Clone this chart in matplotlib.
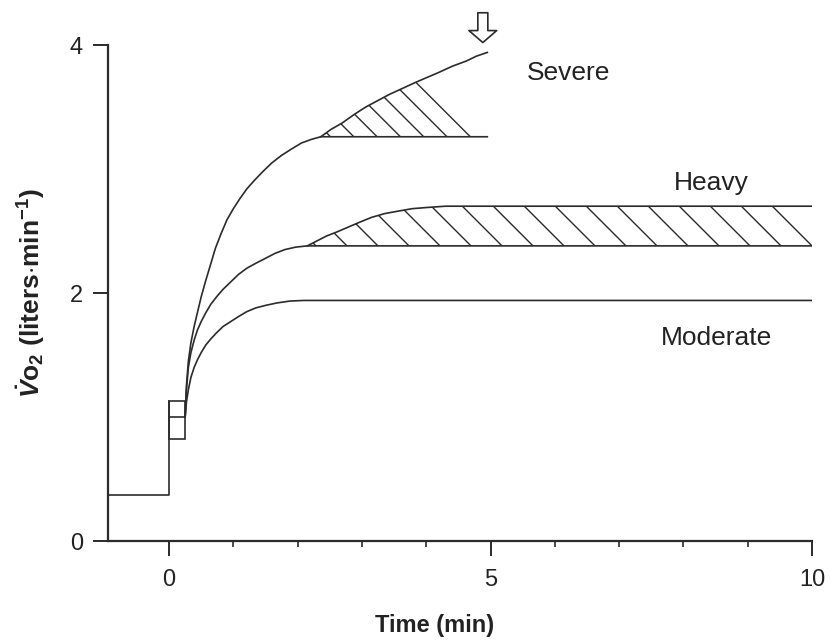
"""
VO2 response to constant-load exercise in the moderate, heavy and severe domains.
Redrawn with matplotlib; values read off the original figure.
"""
import matplotlib.pyplot as plt
from matplotlib.patches import Rectangle

plt.rcParams['font.family'] = ['Liberation Sans', 'DejaVu Sans']
plt.rcParams['mathtext.fontset'] = 'custom'
plt.rcParams['mathtext.rm'] = 'Liberation Sans:bold'
plt.rcParams['mathtext.it'] = 'Liberation Sans:italic:bold'
plt.rcParams['mathtext.bf'] = 'Liberation Sans:bold'

INK = '#2b2b2b'

# --- values (time in min, VO2 in liters/min) ---
baseline_t = [-0.95, 0.0, 0.0]
baseline_v = [0.37, 0.37, 1.13]
box_t = [0.0, 0.25]
box_v = [0.82, 1.00, 1.13]          # bottom, middle, top of the phase 1 box

mod_t = [0.25, 0.27, 0.30, 0.34, 0.39, 0.44, 0.50, 0.57, 0.65, 0.74, 0.84, 0.96,
         1.08, 1.21, 1.35, 1.50, 1.68, 1.88, 2.10, 2.40, 10.0]
mod_v = [1.00, 1.12, 1.22, 1.32, 1.40, 1.46, 1.52, 1.58, 1.63, 1.68, 1.73, 1.77,
         1.81, 1.85, 1.88, 1.90, 1.92, 1.935, 1.94, 1.94, 1.94]

heavy_rise_t = [0.25, 0.27, 0.30, 0.34, 0.39, 0.44, 0.50, 0.57, 0.65, 0.74, 0.84, 0.96,
                1.08, 1.21, 1.35, 1.50, 1.65, 1.80, 1.97, 2.15, 10.0]
heavy_rise_v = [1.00, 1.22, 1.40, 1.52, 1.62, 1.70, 1.77, 1.84, 1.91, 1.97, 2.03, 2.09,
                2.15, 2.20, 2.24, 2.28, 2.32, 2.35, 2.37, 2.38, 2.38]
heavy_slow_t = [2.15, 2.30, 2.45, 2.60, 2.78, 2.96, 3.15, 3.35, 3.56, 3.78, 4.02, 4.30,
                4.62, 10.0]
heavy_slow_v = [2.38, 2.42, 2.46, 2.49, 2.53, 2.57, 2.61, 2.64, 2.66, 2.68, 2.69, 2.70,
                2.70, 2.70]

sev_rise_t = [0.25, 0.27, 0.30, 0.34, 0.39, 0.44, 0.50, 0.57, 0.64, 0.72, 0.81, 0.90,
              1.00, 1.10, 1.21, 1.33, 1.46, 1.60, 1.75, 1.90, 2.06, 2.22, 2.36, 4.95]
sev_rise_v = [1.00, 1.25, 1.45, 1.60, 1.73, 1.84, 1.97, 2.10, 2.22, 2.36, 2.48, 2.59,
              2.68, 2.76, 2.84, 2.91, 2.98, 3.05, 3.11, 3.16, 3.21, 3.24, 3.26, 3.26]
sev_slow_t = [2.36, 2.52, 2.69, 2.88, 3.06, 3.24, 3.42, 3.63, 3.84, 4.02, 4.20, 4.41,
              4.62, 4.78, 4.95]
sev_slow_v = [3.26, 3.32, 3.37, 3.44, 3.50, 3.55, 3.60, 3.65, 3.70, 3.74, 3.78, 3.83,
              3.87, 3.91, 3.94]

end_t = 4.88                         # exhaustion arrow
labels = ['Severe', 'Heavy', 'Moderate']
label_t = [5.57, 7.85, 7.65]
label_v = [3.72, 2.83, 1.58]


def hatch(ax, t, lo, hi, step_px, offset_px):
    """45 degree hatching clipped to the area between lo and the curve hi."""
    region = ax.fill_between(t, lo, hi, facecolor='none', edgecolor='none')
    clip = region.get_paths()[0]
    (x0, y0), (x1, y1) = ax.transData.transform([(0, 0), (1, 1)])
    sx, sy = x1 - x0, y1 - y0
    climb = (max(hi) - lo) * sy / sx + 0.1
    tb = t[-1] - offset_px / sx
    while tb > t[0]:
        ta, tc = tb - climb, tb + 0.1
        line, = ax.plot([ta, tc], [lo + (tb - ta) * sx / sy, lo - (tc - tb) * sx / sy],
                        color=INK, lw=1.0)
        line.set_clip_path(clip, ax.transData)
        tb -= step_px / sx


fig = plt.figure(figsize=(8.31, 6.44), dpi=100)
ax = fig.add_axes([108 / 831, 103 / 644, 704 / 831, 496 / 644])
ax.set_xlim(-0.95, 10)
ax.set_ylim(0, 4)

# baseline, step and phase 1 box
ax.plot(baseline_t, baseline_v, color=INK, lw=1.2)
ax.add_patch(Rectangle((box_t[0], box_v[0]), box_t[1] - box_t[0], box_v[2] - box_v[0],
                       fill=False, ec=INK, lw=1.2))
ax.plot(box_t, [box_v[1], box_v[1]], color=INK, lw=1.2)

# the three exercise domains
for t, v in [(mod_t, mod_v), (heavy_rise_t, heavy_rise_v), (heavy_slow_t, heavy_slow_v),
             (sev_rise_t, sev_rise_v), (sev_slow_t, sev_slow_v)]:
    ax.plot(t, v, color=INK, lw=1.2, solid_joinstyle='round')

# slow component shading
hatch(ax, heavy_slow_t, heavy_slow_v[0], heavy_slow_v, step_px=31, offset_px=0)
hatch(ax, sev_slow_t, sev_slow_v[0], sev_slow_v, step_px=23.3, offset_px=17)

ax.annotate('', xy=(end_t, 4.02), xytext=(end_t, 4.26), annotation_clip=False,
            arrowprops=dict(arrowstyle='simple,head_length=0.43,head_width=1.0,tail_width=0.36',
                            mutation_scale=20, fc='white', ec=INK, lw=1.2,
                            shrinkA=0, shrinkB=0))

for name, t, v in zip(labels, label_t, label_v):
    ax.text(t, v, name, fontsize=19, color='#222222', va='baseline', ha='left')

# axes styling
for side in ['top', 'right']:
    ax.spines[side].set_visible(False)
for side in ['left', 'bottom']:
    ax.spines[side].set_linewidth(1.6)
    ax.spines[side].set_color(INK)
ax.set_xticks([0, 5, 10])
ax.set_xticks([1, 2, 3, 4, 6, 7, 8, 9], minor=True)
ax.set_yticks([0, 2, 4])
ax.tick_params(axis='both', which='major', length=11, width=1.4, color=INK,
               labelsize=17, pad=7, labelcolor='#222222')
ax.tick_params(axis='x', which='major', pad=9)
ax.tick_params(axis='x', which='minor', length=4.5, width=1.2, color=INK)

ax.set_xlabel('Time (min)', fontsize=17, fontweight='bold', color='#222222', va='top')
ax.xaxis.set_label_coords(0.4645, -0.148)
ax.set_ylabel(r'$\dot{\mathit{V}}\mathrm{o}_{2}$ (liters$\cdot$min$^{-1}$)',
              fontsize=19, fontweight='bold', color='#222222')
ax.yaxis.set_label_coords(-0.087, 0.5)

fig.savefig('out.png', dpi=100)
